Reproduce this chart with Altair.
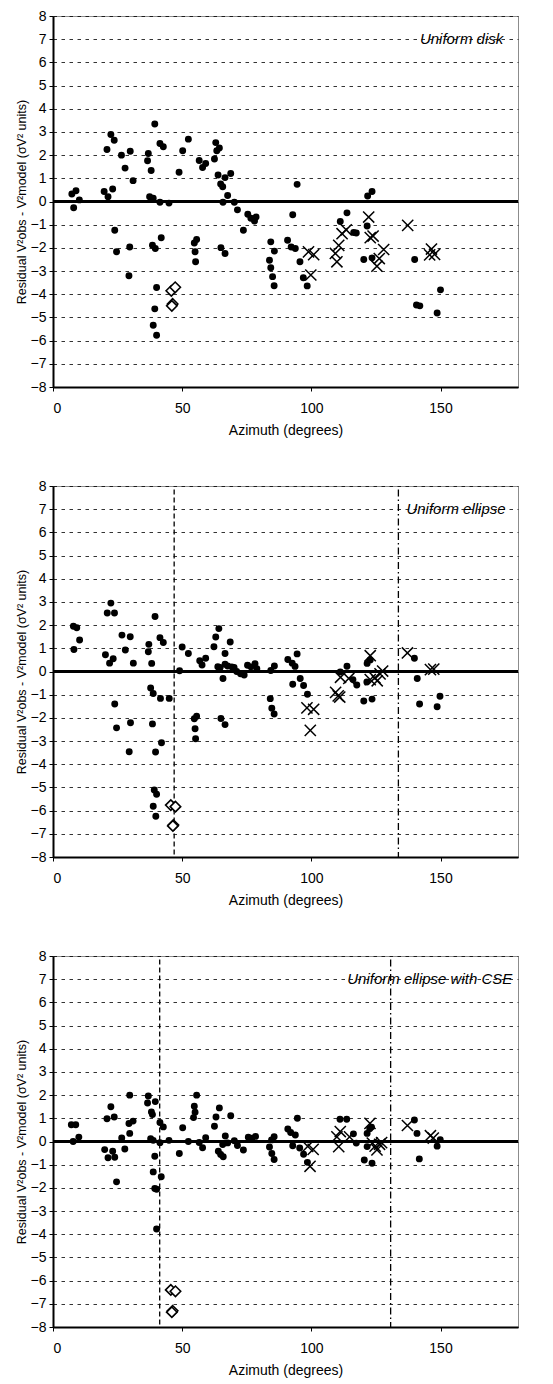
import altair as alt
import pandas as pd

FONT = "Liberation Sans"
YTITLE = "Residual V²obs - V²model (σV² units)"
XTITLE = "Azimuth (degrees)"
X_TICKS = [0, 50, 100, 150]
Y_TICKS = list(range(-8, 9))

# ---------------- Panel 1 : Uniform disk ----------------
p1_label = "Uniform disk"
p1_dots = [
    (7.3, 0.32), (8.9, 0.46), (10.2, 0.07), (8.0, -0.27),
    (19.8, 0.43), (21.3, 0.21), (23.1, 0.54), (20.9, 2.24), (22.4, 2.89), (23.7, 2.64),
    (23.9, -1.24), (24.6, -2.17),
    (26.5, 2.0), (27.9, 1.44), (29.9, 2.17), (31.0, 0.9),
    (29.7, -1.96), (29.4, -3.2),
    (36.9, 2.07), (36.6, 1.76), (38.0, 1.34), (37.4, 0.21), (38.8, 0.14),
    (39.4, 3.34), (41.4, 2.5), (42.7, 2.36),
    (41.4, -0.03), (44.9, -0.07),
    (38.5, -1.89), (39.6, -2.03), (41.9, -1.56),
    (40.1, -3.71), (39.4, -4.63), (38.8, -5.34), (40.1, -5.77),
    (48.8, 1.26), (50.2, 2.19), (52.4, 2.69),
    (54.7, -1.79), (55.6, -1.64), (55.0, -2.17), (55.2, -2.6),
    (56.6, 1.77), (57.9, 1.47), (59.1, 1.64),
    (62.5, 1.83), (63.0, 2.54), (63.4, 2.19), (64.4, 2.31),
    (63.9, 1.14), (64.9, 0.76), (65.7, 0.64), (66.6, 1.03), (68.8, 1.21), (67.6, 0.26),
    (65.8, -0.03), (70.2, -0.03),
    (65.0, -1.99), (66.6, -2.24),
    (71.4, -0.36), (75.4, -0.55), (76.6, -0.72), (78.0, -0.84), (78.6, -0.67),
    (73.7, -1.24),
    (84.3, -1.74), (83.8, -2.53), (84.3, -2.86), (85.0, -3.24), (85.6, -3.63), (85.7, -2.14),
    (92.8, -0.57), (90.8, -1.67), (92.2, -1.96), (93.8, -2.03), (95.6, -2.6),
    (96.9, -3.29), (98.4, -3.64),
    (94.5, 0.74),
    (111.2, -0.86), (113.8, -0.49), (116.4, -1.34), (117.4, -1.36), (121.6, -1.06),
    (121.8, 0.24), (123.5, 0.43),
    (120.3, -2.5), (123.5, -2.43),
    (140.0, -2.5), (140.7, -4.46), (142.0, -4.5), (148.7, -4.81), (150.0, -3.81),
]
p1_crosses = [
    (98.9, -2.17), (100.9, -2.29), (99.8, -3.17),
    (109.3, -2.24), (109.9, -2.6), (110.6, -1.89), (111.9, -1.39), (113.5, -1.22),
    (122.2, -0.67), (122.8, -1.56), (123.9, -1.49),
    (125.4, -2.79), (126.3, -2.46), (128.0, -2.07),
    (137.3, -1.03),
    (146.5, -2.05), (145.8, -2.3), (147.7, -2.28),
]
p1_diamonds = [(45.8, -3.85), (47.3, -3.7), (46.3, -4.42), (46.0, -4.5)]
p1_dashed = []
p1_dashdot = []

# ---------------- Panel 2 : Uniform ellipse ----------------
p2_label = "Uniform ellipse"
p2_dots = [
    (7.9, 1.95), (9.2, 1.89), (10.3, 1.36), (8.1, 0.95),
    (20.3, 0.72), (21.9, 0.36), (23.3, 0.55),
    (21.0, 2.52), (22.4, 2.95), (23.8, 2.52),
    (26.7, 1.57), (28.0, 0.93), (29.9, 1.5), (31.1, 0.36),
    (37.1, 1.17), (36.9, 0.85), (38.2, 0.35),
    (39.5, 2.37), (41.4, 1.46), (42.7, 1.25),
    (49.0, 0.03), (50.0, 1.06), (52.4, 0.78),
    (56.8, 0.46), (57.7, 0.28), (59.1, 0.57),
    (62.3, 1.07), (63.0, 1.49), (64.2, 1.85),
    (66.6, 0.78), (68.6, 1.27),
    (63.8, 0.21), (64.7, 0.17), (66.6, 0.31), (67.6, 0.24), (69.2, 0.2), (70.1, 0.17),
    (65.8, -0.3),
    (71.1, 0.0), (72.6, -0.1), (74.0, -0.15),
    (75.3, 0.27), (76.6, 0.2), (78.2, 0.34), (78.9, 0.12),
    (84.3, 0.04), (85.7, 0.24),
    (90.9, 0.52), (92.6, 0.36), (93.7, 0.22), (94.5, 0.76),
    (95.7, -0.3), (92.8, -0.55), (97.0, -0.6), (98.5, -0.98),
    (111.2, -0.02), (113.8, 0.23), (116.1, -0.35), (117.6, -0.58),
    (121.6, 0.35), (122.8, 0.5), (121.5, -0.45),
    (120.3, -1.27), (123.5, -1.19),
    (139.9, 0.57), (141.0, -0.3), (141.9, -1.4), (148.7, -1.52), (149.8, -1.07),
    (23.9, -1.4), (24.6, -2.43), (30.0, -2.21), (29.5, -3.46),
    (37.8, -0.71), (38.8, -0.95), (41.6, -1.16), (45.0, -1.16),
    (38.5, -2.26), (42.0, -3.07), (39.7, -3.47),
    (39.2, -5.11), (40.1, -5.29), (38.8, -5.81), (39.8, -6.24),
    (54.7, -2.04), (55.6, -1.93), (55.0, -2.47), (55.2, -2.9),
    (65.0, -2.03), (66.6, -2.29),
    (84.1, -1.17), (84.7, -1.58), (85.6, -1.83),
]
p2_crosses = [
    (98.3, -1.57), (100.9, -1.63), (99.6, -2.54),
    (109.4, -0.9), (110.4, -1.05), (111.0, -1.1),
    (111.3, -0.25), (114.5, -0.3),
    (122.8, 0.68), (122.8, -0.35), (124.6, -0.27), (125.5, -0.4), (126.6, -0.1), (127.6, 0.02),
    (137.2, 0.8),
    (146.1, 0.08), (147.4, 0.1),
]
p2_diamonds = [(45.6, -5.76), (47.4, -5.83), (46.6, -6.62), (46.4, -6.66)]
p2_dashed = [46.9]
p2_dashdot = [133.7]

# ---------------- Panel 3 : Uniform ellipse with CSE ----------------
p3_label = "Uniform ellipse with CSE"
p3_dots = [
    (7.1, 0.72), (8.8, 0.72), (10.0, 0.19), (7.8, 0.0),
    (20.0, -0.35), (21.3, -0.7), (23.1, -0.42), (23.9, -0.68), (24.6, -1.74),
    (20.9, 0.98), (22.4, 1.5), (23.7, 1.06),
    (26.6, 0.15), (27.8, -0.32),
    (29.7, 2.0), (29.4, 0.78), (31.0, 0.88), (29.7, 0.35),
    (36.9, 1.96), (36.6, 1.66), (38.1, 1.27), (38.5, 1.16), (39.6, 1.72),
    (37.8, 0.12), (38.8, 0.05),
    (39.4, -0.64), (38.8, -1.31), (39.4, -2.03), (40.1, -2.06), (41.9, -1.52), (40.1, -3.77),
    (41.4, -0.05), (44.9, 0.05), (41.4, 0.82), (42.7, 0.63),
    (48.9, -0.52), (50.2, 0.59), (52.4, 0.0),
    (55.6, 2.0), (54.7, 1.52), (55.0, 1.26), (54.4, 1.03),
    (56.6, -0.04), (57.9, -0.27), (59.1, 0.16),
    (62.5, 0.66), (63.1, 1.06), (64.4, 1.45), (66.7, 0.24), (68.8, 1.11),
    (64.0, -0.42), (64.9, -0.56), (65.9, -0.66), (67.6, -0.06), (65.7, -0.13),
    (70.2, 0.03), (71.4, -0.17), (73.7, -0.37),
    (75.6, 0.18), (77.0, 0.14), (78.4, 0.22),
    (83.8, -0.24), (84.6, 0.07), (85.6, 0.21), (84.7, -0.52), (85.6, -0.78),
    (90.9, 0.54), (92.0, 0.39), (93.8, 0.28), (94.6, 1.0),
    (92.8, -0.18), (95.5, -0.28), (97.0, -0.55), (98.5, -0.9),
    (111.1, 0.96), (113.7, 0.96), (116.3, 0.33), (117.4, -0.07),
    (120.5, -0.8), (123.5, -0.94),
    (121.6, 0.35), (122.6, 0.55), (123.3, 0.62), (121.6, -0.22),
    (139.9, 0.93), (140.9, 0.35), (141.8, -0.75),
    (148.7, -0.2), (149.9, 0.08),
]
p3_crosses = [
    (98.6, -0.21), (100.7, -0.34), (99.5, -1.07),
    (111.2, 0.43), (109.9, 0.2), (110.6, -0.22), (114.8, 0.2),
    (122.7, 0.78),
    (123.6, -0.07), (124.7, -0.2), (125.4, -0.36), (126.4, -0.12), (127.2, -0.05),
    (137.2, 0.69),
    (146.1, 0.25), (147.2, 0.15),
]
p3_diamonds = [(45.6, -6.4), (47.4, -6.46), (46.3, -7.3), (46.0, -7.36)]
p3_dashed = [41.3]
p3_dashdot = [130.7]

X_PATH = "M-1,-1L1,1M-1,1L1,-1"


def panel(dots, crosses, diamonds, dashed, dashdot, label, label_az):
    xs = alt.Scale(domain=[0, 180], nice=False, zero=False)
    ys = alt.Scale(domain=[-8, 8], nice=False, zero=False)
    xax = alt.Axis(values=X_TICKS, title=XTITLE, grid=False)
    yax = alt.Axis(values=Y_TICKS, title=YTITLE, grid=True)

    def enc():
        return dict(
            x=alt.X("az:Q", scale=xs, axis=xax),
            y=alt.Y("res:Q", scale=ys, axis=yax),
        )

    zero = alt.Chart(pd.DataFrame({"res": [0.0]})).mark_rule(
        color="black", strokeWidth=3
    ).encode(y=alt.Y("res:Q", scale=ys, axis=yax))

    layers = [zero]

    def vrule(vals, dash):
        vdf = pd.DataFrame({"az": vals, "res": [7.85] * len(vals), "bot": [-8.0] * len(vals)})
        return alt.Chart(vdf).mark_rule(color="black", strokeWidth=1.3, strokeDash=dash).encode(
            y2="bot:Q", **enc()
        )

    if dashed:
        layers.append(vrule(dashed, [5, 3]))
    if dashdot:
        layers.append(vrule(dashdot, [7, 3, 1.5, 3]))

    dot_df = pd.DataFrame(dots, columns=["az", "res"])
    layers.append(alt.Chart(dot_df).mark_point(
        shape="circle", filled=True, size=48, color="black", opacity=1, strokeWidth=0
    ).encode(**enc()))

    cross_df = pd.DataFrame(crosses, columns=["az", "res"])
    layers.append(alt.Chart(cross_df).mark_point(
        shape=X_PATH, filled=False, size=125, color="black", strokeWidth=1.5, opacity=1
    ).encode(**enc()))

    dia_df = pd.DataFrame(diamonds, columns=["az", "res"])
    layers.append(alt.Chart(dia_df).mark_point(
        shape="diamond", filled=True, fill="white", stroke="black", size=110,
        strokeWidth=1.6, opacity=1, fillOpacity=1
    ).encode(**enc()))

    lab_df = pd.DataFrame({"az": [label_az], "res": [7.0], "t": [label]})
    layers.append(alt.Chart(lab_df).mark_text(
        align="right", baseline="middle", fontStyle="italic", font=FONT, fontSize=15, color="black"
    ).encode(text="t:N", **enc()))

    return alt.layer(*layers).properties(width=465, height=371)


p1 = panel(p1_dots, p1_crosses, p1_diamonds, p1_dashed, p1_dashdot, p1_label, 174.3)
p2 = panel(p2_dots, p2_crosses, p2_diamonds, p2_dashed, p2_dashdot, p2_label, 175.2)
p3 = panel(p3_dots, p3_crosses, p3_diamonds, p3_dashed, p3_dashdot, p3_label, 177.8)

chart = alt.vconcat(p1, p2, p3, spacing=40).properties(
    padding={"left": 6, "top": 0, "right": 0, "bottom": 0}
).configure_view(
    stroke="#8c8c8c", strokeWidth=1
).configure_axis(
    labelFont=FONT, titleFont=FONT, labelFontSize=14, titleFontSize=14,
    titleFontWeight="normal", labelColor="black", titleColor="black",
    domainColor="black", domainWidth=2, tickColor="black", tickSize=4, tickWidth=1,
    gridColor="black", gridDash=[3.5, 4.5], gridWidth=0.8, gridOpacity=1,
).configure_axisX(
    labelPadding=10, titlePadding=8
).configure_axisY(
    labelPadding=3, titlePadding=2, titleFontSize=12.5
)

chart.save("out.html", embed_options={"renderer": "svg", "actions": False})
